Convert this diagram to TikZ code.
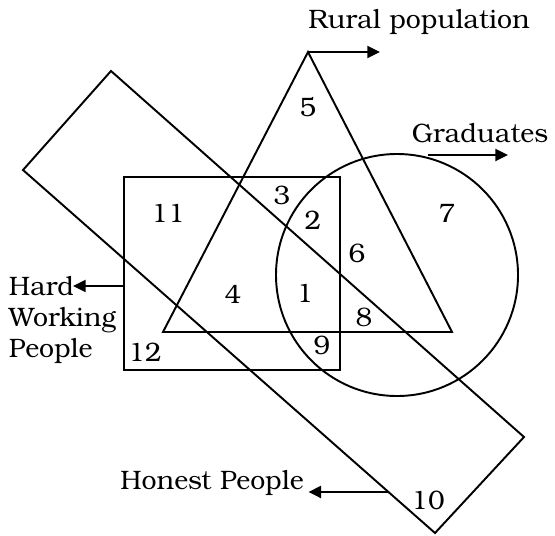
\documentclass[tikz,border=0pt]{standalone}
\usepackage{fontspec}
\setmainfont{TeX Gyre Bonum}
\usetikzlibrary{arrows.meta,calc}
\begin{document}
\begin{tikzpicture}[x=0.75pt, y=-0.75pt, line width=1.45pt,
  every node/.style={font=\fontsize{20}{23.3}\selectfont, inner sep=0pt},
  pointer/.style={-{Triangle[length=9.5pt,width=9pt]}, line width=1.7pt}]
  \useasboundingbox (0,0) rectangle (555,535);
  % slanted box (honest people)
  \coordinate (T) at (111,71); \coordinate (L) at (23,170);
  \coordinate (B) at (435,533); \coordinate (R) at (524,437);
  \draw (T)--(R)--(B)--(L)--cycle;
  % triangle (rural population)
  \coordinate (A) at (308,52); \coordinate (P) at (163,332);
  \coordinate (Q) at (452,332);
  \draw (A)--(Q)--(P)--cycle;
  % box (hard working people)
  \coordinate (W1) at (124,177); \coordinate (W2) at (340,370);
  \draw (W1) rectangle (W2);
  % circle (graduates)
  \coordinate (C) at (397,275);
  \draw (C) circle[radius=90.75pt];
  % region numbers
  \node (n1) at (305,293) {1};
  \node (n2) at (313,220) {2};
  \node (n3) at (282,195) {3};
  \node (n4) at (233,294) {4};
  \node (n5) at (308,107) {5};
  \node (n6) at (357,253) {6};
  \node (n7) at (447,213) {7};
  \node (n8) at (364,317) {8};
  \node (n9) at (322,345) {9};
  \node (n10) at (428,500) {10};
  \node (n11) at (168,213) {11};
  \node (n12) at (145,352) {12};
  % labels with pointers
  \node (rural) at (419,22) {Rural population};
  \coordinate (ruraltip) at (380,52);
  \draw[pointer] (A) -- (ruraltip);
  \node (grad) at (480,133) {Graduates};
  \coordinate (gradfoot) at (428,155); \coordinate (gradtip) at (508,155);
  \draw[pointer] (gradfoot) -- (gradtip);
  \node[align=left, anchor=north west] (hard) at (8,275) {Hard\\Working\\People};
  \coordinate (hardfoot) at (124,286); \coordinate (hardtip) at (73,286);
  \draw[pointer] (hardfoot) -- (hardtip);
  \node (honest) at (212,483) {Honest People};
  \coordinate (honestfoot) at ($(L)!0.887!(B)$);
  \coordinate (honesttip) at ($(honestfoot)+(-80,0)$);
  \draw[pointer] (honestfoot) -- (honesttip);
\end{tikzpicture}
\end{document}
